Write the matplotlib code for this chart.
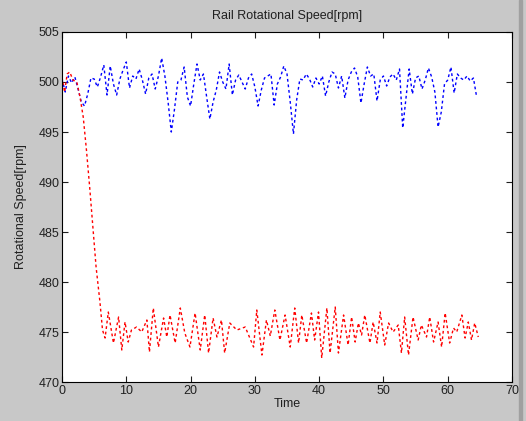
import numpy as np
import matplotlib
matplotlib.use('Agg')
import matplotlib.pyplot as plt
from matplotlib.patches import Rectangle

## data
# blue series, sampled every 0.5 s
blue_t = np.arange(0, 65, 0.5)
blue_v = [500.3, 499.0, 500.6, 499.9, 500.5, 499.3, 498.0, 497.6, 498.8, 500.4,
          500.3, 499.5, 500.5, 501.7, 498.7, 501.6, 499.8, 498.7, 500.3, 501.2,
          502.0, 499.4, 500.6, 500.3, 501.3, 500.2, 498.8, 500.4, 500.8, 499.3,
          500.6, 502.4, 500.6, 498.0, 495.0, 497.3, 500.0, 500.2, 501.5, 498.5,
          497.6, 499.8, 501.8, 500.2, 500.8, 498.5, 496.3, 498.0, 499.2, 501.0,
          500.0, 499.3, 501.8, 498.7, 500.2, 500.7, 500.0, 499.3, 500.4, 500.8,
          499.5, 497.6, 499.2, 500.4, 500.6, 500.8, 497.7, 499.8, 500.5, 501.6,
          500.8, 498.0, 494.8, 498.2, 500.3, 500.2, 500.8, 500.3, 499.5, 500.4,
          499.8, 500.6, 498.6, 500.0, 501.0, 500.8, 499.4, 500.6, 498.4, 500.2,
          501.0, 501.4, 500.5, 497.9, 499.8, 501.5, 500.6, 500.8, 498.1, 500.2,
          500.6, 499.6, 500.5, 500.8, 500.2, 501.3, 495.4, 498.4, 501.3, 498.8,
          500.4, 500.6, 499.3, 500.2, 501.4, 500.5, 499.0, 495.5, 497.0, 499.8,
          500.2, 501.5, 498.9, 500.8, 500.4, 500.2, 500.6, 500.1, 500.4, 498.5]

# red series, turning points
red_t = [0.0, 0.4, 0.8, 1.2, 1.7, 2.3, 2.8, 3.3, 3.8, 4.3, 4.8, 5.3, 5.9, 6.3, 6.7,
         7.2, 8.0, 8.8, 9.3, 9.8, 10.3, 10.8, 11.6, 12.4, 13.2, 13.6, 14.2, 15.0,
         15.8, 16.3, 16.8, 17.6, 18.4, 19.1, 19.9, 20.7, 21.5, 22.2, 22.8, 23.5,
         24.1, 24.8, 25.3, 26.1, 27.2, 28.5, 29.8, 30.3, 31.1, 31.8, 32.4, 33.1,
         33.9, 34.7, 35.5, 36.2, 36.8, 37.3, 38.05, 38.8, 39.3, 39.9, 40.4, 41.2,
         41.7, 42.5, 43.0, 43.8, 44.5, 45.05, 45.6, 46.1, 46.6, 47.1, 47.9, 48.4,
         49.0, 49.5, 50.2, 50.8, 51.5, 52.3, 52.8, 53.3, 53.9, 54.6, 55.4, 55.9,
         56.7, 57.2, 57.8, 58.5, 59.05, 59.6, 60.3, 60.9, 61.4, 62.2, 62.7, 63.2,
         63.7, 64.2, 64.75]
red_v = [500.5, 499.0, 500.8, 501.0, 500.2, 500.0, 498.5, 496.5, 493.2, 489.5,
         485.5, 481.5, 478.0, 475.2, 474.4,
         477.0, 473.9, 476.5, 473.2, 476.0, 474.0, 475.2, 475.5, 475.0, 476.2,
         473.0, 477.4, 473.5, 476.4, 474.5, 476.7, 473.9, 477.4, 474.9, 473.5,
         476.9, 473.2, 476.7, 472.9, 476.4, 474.5, 476.2, 472.9, 475.9, 475.2,
         475.5, 473.5, 477.2, 472.7, 476.2, 474.6, 477.2, 474.2, 476.7, 473.5,
         477.4, 473.9, 476.7, 473.9, 476.9, 474.2, 477.0, 472.4, 477.4, 472.9,
         477.5, 472.9, 476.7, 473.7, 476.5, 474.0, 475.9, 474.7, 476.7, 473.9,
         476.0, 473.9, 477.0, 473.7, 475.9, 475.0, 475.7, 472.9, 476.5, 472.7,
         476.5, 474.2, 475.7, 474.5, 476.5, 474.0, 476.0, 473.5, 476.9, 473.9,
         475.4, 475.0, 476.7, 474.4, 476.0, 474.2, 475.9, 474.5]

xticks = [0, 10, 20, 30, 40, 50, 60, 70]
yticks = [470, 475, 480, 485, 490, 495, 500, 505]

plt.rcParams['font.family'] = ['Liberation Sans', 'DejaVu Sans']

fig = plt.figure(figsize=(5.26, 4.21), dpi=100, facecolor='#c8c8c8')
ax = fig.add_axes([0.1179, 0.0926, 0.8555, 0.8314])

# window border strip on the right of the screenshot
fig.patches.append(Rectangle((0.9875, 0), 0.005, 1, transform=fig.transFigure,
                             color='#a0a0a0', zorder=0))

dash = (0, (2, 2))
ax.plot(blue_t, blue_v, color='#0000ff', linestyle=dash, linewidth=1)
ax.plot(red_t, red_v, color='#ff0000', linestyle=dash, linewidth=1)

ax.set_xlim(0, 70)
ax.set_ylim(470, 505)
ax.set_xticks(xticks)
ax.set_yticks(yticks)
ax.tick_params(direction='in', top=True, right=True, length=4, width=0.8,
               labelsize=9, pad=2, colors='#202020')
for s in ax.spines.values():
    s.set_linewidth(0.8)

ax.set_title('Rail Rotational Speed[rpm]', fontsize=9, pad=9, color='#202020')
ax.set_xlabel('Time', fontsize=9, labelpad=1, color='#202020')
ax.set_ylabel('Rotational Speed[rpm]', fontsize=9, labelpad=8, color='#202020')

fig.savefig('out.png', dpi=100, facecolor=fig.get_facecolor())
